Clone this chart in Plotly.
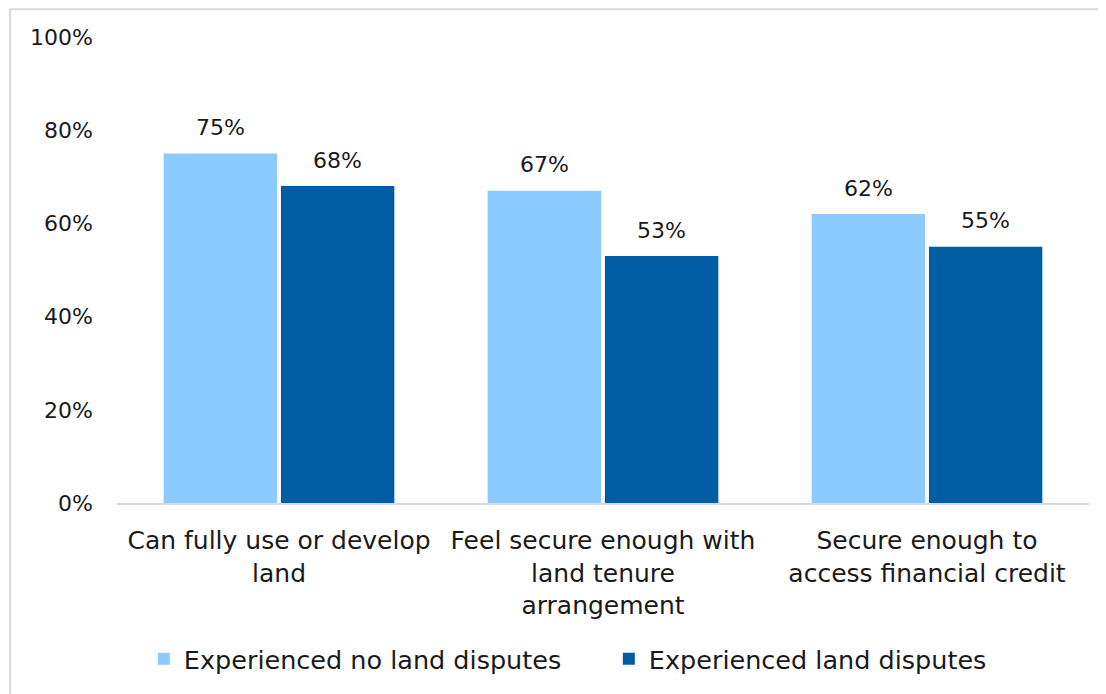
import plotly.graph_objects as go

categories = ["Can fully use or develop<br>land",
              "Feel secure enough with<br>land tenure<br>arrangement",
              "Secure enough to<br>access financial credit"]
no_disputes = [75, 67, 62]
disputes = [68, 53, 55]
series_names = ["Experienced no land disputes", "Experienced land disputes"]
tick_vals = [0, 20, 40, 60, 80, 100]
tick_text = ["0%", "20%", "40%", "60%", "80%", "100%"]

FONT = "DejaVu Sans"
TXT = "#1a1a1a"
LIGHT = "#8CCBFF"
DARK = "#005DA4"
BW = 0.35
OFF_L, OFF_D = -0.356, 0.006

fig = go.Figure()
fig.add_trace(go.Bar(
    x=categories, y=no_disputes, name=series_names[0],
    marker=dict(color=LIGHT, line=dict(width=0)),
    width=BW, offset=OFF_L,
))
fig.add_trace(go.Bar(
    x=categories, y=disputes, name=series_names[1],
    marker=dict(color=DARK, line=dict(width=0)),
    width=BW, offset=OFF_D,
))

annotations = []
for i, (a, b) in enumerate(zip(no_disputes, disputes)):
    for off, v in ((OFF_L, a), (OFF_D, b)):
        annotations.append(dict(
            x=i + off + BW / 2, y=v, xref="x", yref="y",
            text=f"{v}%", showarrow=False, yanchor="middle", yshift=26,
            font=dict(family=FONT, size=22, color=TXT)))

W, H = 1098, 686
L, T = 109, 29
pw, ph = 972, 469
R = W - L - pw
B = H - T - ph
bx = (2 - L) / pw
by = 1 + (T - 1) / ph

fig.update_layout(
    width=W, height=H,
    margin=dict(l=L, r=R, t=T, b=B),
    paper_bgcolor="white", plot_bgcolor="white",
    font=dict(family=FONT, size=22, color=TXT),
    barmode="group",
    showlegend=True,
    legend=dict(orientation="h", x=0.506, xanchor="center", y=-0.335, yanchor="middle",
                font=dict(family=FONT, size=25.5, color=TXT),
                traceorder="normal", itemwidth=30, entrywidth=420),
    xaxis=dict(showline=True, linecolor="#d9d9d9", linewidth=2, ticks="",
               showgrid=False, ticklabelstandoff=14,
               tickfont=dict(family=FONT, size=25, color=TXT)),
    yaxis=dict(range=[0, 100], tickvals=tick_vals, ticktext=tick_text,
               showgrid=False, zeroline=False, showline=False, ticks="",
               ticklabelstandoff=23,
               tickfont=dict(family=FONT, size=22, color=TXT)),
    annotations=annotations,
    shapes=[
        dict(type="line", xref="paper", yref="paper", x0=bx, x1=bx, y0=-1, y1=by,
             line=dict(color="#d9d9d9", width=2)),
        dict(type="line", xref="paper", yref="paper", x0=bx, x1=1.5, y0=by, y1=by,
             line=dict(color="#d9d9d9", width=2)),
    ],
)

fig.write_html("out.html")
